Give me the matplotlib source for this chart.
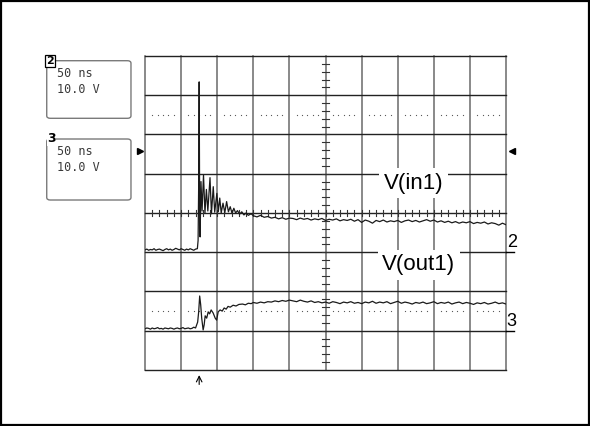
import matplotlib
matplotlib.use("Agg")
import matplotlib.pyplot as plt
from matplotlib import font_manager
import numpy as np
from matplotlib.patches import Rectangle, FancyBboxPatch

# Escalas do osciloscópio
NS_POR_DIV = 50.0
V_POR_DIV = 10.0
T_INICIO = -75.0          # tempo na borda esquerda da tela (ns)
TERRA_CH2 = 3             # posição do terra do canal 2 (divisões)
TERRA_CH3 = 1             # posição do terra do canal 3 (divisões)
NIVEL_TRIGGER = 25.7      # nível de trigger (V, canal 2)

# Canal 2: V(in1)
t_in = [-75, -72.5, -70, -67.5, -65, -62.5, -60, -57.5, -55, -52.5, -50, -47.5, -45, -42.5,
        -40, -37.5, -35, -32.5, -30, -27.5, -25, -22.5, -20, -17.5, -15, -12.5, -10, -7.5, -5,
        -2.5, -1.5, -0.7, 0.0, 0.6, 1.3, 2.5, 4.0, 6.0, 8.0, 10.0, 12.0, 15.0, 17.0, 19.5,
        21.5, 24.5, 26.5, 28.5, 30.5, 33.0, 35.5, 38.0, 40.5, 43.0, 45.5, 48.0, 50.5, 53.0,
        56.0, 59.0, 62.0, 65.0, 68.0, 72.0,
        75, 80, 85, 90, 95, 100, 105, 110, 115, 120, 125, 130, 135, 140, 145, 150, 155, 160,
        165, 170, 175, 180, 185, 190, 195, 200, 205, 210, 215, 220, 225, 230, 235, 240, 245,
        250, 255, 260, 265, 270, 275, 280, 285, 290, 295, 300, 305, 310, 315, 320, 325, 330,
        335, 340, 345, 350, 355, 360, 365, 370, 375, 380, 385, 390, 395, 400, 405, 410, 415,
        420, 425]
v_in = [0.6, 0.8, 0.5, 0.7, 0.6, 0.9, 0.5, 0.7, 0.8, 0.6, 0.4, 0.7, 0.9, 0.6,
        0.8, 0.5, 0.7, 1.0, 0.8, 0.6, 0.9, 0.7, 0.5, 0.8, 0.6, 0.9, 0.7, 0.5, 0.8,
        0.9, 3.0, 17.0, 43.4, 14.0, 3.9, 18.0, 10.5, 19.7, 10.0, 16.0, 10.5, 19.0, 9.8, 16.7,
        10.2, 15.0, 10.3, 13.8, 10.0, 12.5, 10.1, 12.9, 10.3, 11.6, 9.9, 11.2, 10.0, 10.6,
        9.7, 10.3, 9.5, 10.0, 9.4, 9.8,
        9.3, 9.0, 9.4, 8.9, 9.1, 8.7, 8.9, 8.5, 8.8, 8.4, 8.7, 8.6, 8.3, 8.7, 8.4, 8.6, 8.2, 8.5,
        8.3, 8.6, 8.1, 8.4, 8.2, 8.5, 8.0, 8.3, 8.1, 8.4, 7.9, 8.3, 7.6, 8.2, 7.9, 7.4, 8.1,
        7.8, 8.2, 7.7, 8.0, 7.8, 8.1, 7.6, 8.0, 8.2, 7.8, 8.1, 7.7, 8.0, 8.3, 7.9, 8.2, 7.7,
        8.0, 7.6, 7.9, 7.5, 7.8, 7.4, 7.7, 7.5, 7.8, 7.3, 7.6, 7.4, 7.7, 7.2, 7.5, 7.3, 6.9,
        7.4, 7.0]

# Canal 3: V(out1)
t_out = [-75, -72.5, -70, -67.5, -65, -62.5, -60, -57.5, -55, -52.5, -50, -47.5, -45, -42.5,
         -40, -37.5, -35, -32.5, -30, -27.5, -25, -22.5, -20, -17.5, -15, -12.5, -10, -7.5, -5,
         -2.1, -0.7, 0.7, 2.1, 3.5, 5.5, 6.9, 8.3, 10.4, 12.5, 14.5, 16.6, 19.4, 22.2, 24.2,
         26.3, 29.0, 31.9, 34.6, 37.4, 40.0, 43.0, 47.0, 51.0, 55.0, 60.0, 64.0, 68.0, 72.0,
         75, 80, 85, 90, 95, 100, 105, 110, 115, 120, 125, 130, 135, 140, 145, 150, 155, 160,
         165, 170, 175, 180, 185, 190, 195, 200, 205, 210, 215, 220, 225, 230, 235, 240, 245,
         250, 255, 260, 265, 270, 275, 280, 285, 290, 295, 300, 305, 310, 315, 320, 325, 330,
         335, 340, 345, 350, 355, 360, 365, 370, 375, 380, 385, 390, 395, 400, 405, 410, 415,
         420, 425]
v_out = [0.5, 0.7, 0.6, 0.4, 0.7, 0.5, 0.6, 0.8, 0.5, 0.6, 0.4, 0.7, 0.6, 0.5,
         0.7, 0.6, 0.4, 0.6, 0.7, 0.5, 0.6, 0.8, 0.5, 0.6, 0.7, 0.5, 0.6, 0.9, 0.7,
         2.2, 4.8, 8.85, 6.6, 3.2, 0.2, 1.5, 3.8, 3.2, 4.8, 4.3, 5.3, 4.5, 3.2, 2.7,
         4.8, 5.3, 5.0, 5.8, 5.5, 6.2, 6.0, 6.5, 6.3, 6.7, 6.8, 6.6, 7.0, 6.9,
         7.2, 7.0, 7.3, 7.1, 7.4, 7.3, 7.6, 7.4, 7.7, 7.5, 7.8, 7.6, 7.4, 7.8, 7.5, 7.3, 7.6, 7.2,
         7.4, 7.1, 7.3, 7.0, 7.4, 7.2, 6.9, 7.3, 7.1, 7.4, 7.0, 7.2, 6.9, 7.3, 7.1, 7.5, 7.0,
         7.3, 7.1, 7.4, 6.9, 7.2, 7.5, 7.0, 7.3, 7.1, 6.8, 7.2, 7.0, 7.3, 6.9, 7.1, 7.4, 6.9,
         7.2, 7.0, 7.3, 6.8, 7.1, 7.3, 6.9, 7.2, 7.0, 6.7, 7.1, 6.9, 7.2, 6.8, 7.0, 7.3, 6.9,
         7.1, 6.8]

# Textos dos quadros de canal
canais = ["2", "3"]
base_tempo = ["50 ns", "50 ns"]
escala_v = ["10.0 V", "10.0 V"]

# Fonte estreita para os marcadores de terra, se existir
nomes_fontes = {f.name for f in font_manager.fontManager.ttflist}
FONTE_ESTREITA = "Liberation Sans Narrow" if "Liberation Sans Narrow" in nomes_fontes else "Liberation Sans"

fig = plt.figure(figsize=(5.9, 4.26), dpi=100)
fig.patch.set_facecolor("white")

# Moldura externa
fig.add_artist(Rectangle((0.002, 0.002), 0.996, 0.995, transform=fig.transFigure,
                         fill=False, ec="black", lw=1.6))

ax = fig.add_axes([0.2458, 0.1315, 0.6119, 0.7371])
ax.set_xlim(0, 10)
ax.set_ylim(0, 8)
ax.axis("off")

# Retícula
for xv in range(11):
    ax.plot([xv, xv], [0, 8], color="#6a6a6a", lw=1.1, zorder=1, clip_on=False)
for yv in range(9):
    ax.plot([0, 10], [yv, yv], color="#222222", lw=1.0, zorder=1, clip_on=False)

# Marcas do eixo central
for k in range(1, 40):
    ax.plot([4.91, 5.09], [k * 0.2, k * 0.2], color="#333333", lw=0.8, zorder=1)
for k in range(1, 50):
    ax.plot([k * 0.2, k * 0.2], [3.92, 4.08], color="#333333", lw=0.8, zorder=1)

# Linhas pontilhadas
xs_pont = np.concatenate([d + np.array([0.2, 0.35, 0.5, 0.65, 0.8]) for d in range(10)])
for yp in [6.5, 1.5]:
    ax.scatter(xs_pont, np.full_like(xs_pont, yp), s=0.8, color="#555555", zorder=1, lw=0)

# Traços
x_in = (np.array(t_in) - T_INICIO) / NS_POR_DIV
y_in = TERRA_CH2 + np.array(v_in) / V_POR_DIV
x_out = (np.array(t_out) - T_INICIO) / NS_POR_DIV
y_out = TERRA_CH3 + np.array(v_out) / V_POR_DIV
ax.plot(x_in, y_in, color="#1a1a1a", lw=0.9, zorder=3)
ax.plot(x_out, y_out, color="#1a1a1a", lw=0.9, zorder=3)

# Rótulos dos sinais
caixa = dict(boxstyle="square,pad=0.2", fc="white", ec="none")
ax.text(7.43, 4.76, "V(in1)", fontsize=16, family="Liberation Sans", ha="center",
        va="center", bbox=caixa, zorder=4)
ax.text(7.58, 2.68, "V(out1)", fontsize=16, family="Liberation Sans", ha="center",
        va="center", bbox=caixa, zorder=4)

# Marcadores de terra à direita
for terra, nome in [(TERRA_CH2, "2"), (TERRA_CH3, "3")]:
    ax.plot([10.0, 10.22], [terra, terra], color="black", lw=1.0, clip_on=False, zorder=3)
    ax.text(10.02, terra + 0.03, nome, fontsize=13, family=FONTE_ESTREITA,
            ha="left", va="bottom", clip_on=False)

# Nível de trigger
y_trig = TERRA_CH2 + NIVEL_TRIGGER / V_POR_DIV
ax.plot([-0.14], [y_trig], marker=">", ms=4.5, color="black", clip_on=False)
ax.plot([10.16], [y_trig], marker="<", ms=4.5, color="black", clip_on=False)

# Posição do trigger
x_trig = (0 - T_INICIO) / NS_POR_DIV
ax.annotate("", xy=(x_trig, -0.06), xytext=(x_trig, -0.44),
            arrowprops=dict(arrowstyle="->", lw=0.8, color="black"),
            annotation_clip=False)

# Quadros de canal à esquerda
quadros = [(0.0792, 0.7223, 0.8575), (0.0792, 0.5305, 0.6737)]
for i, (x0, y0, y1) in enumerate(quadros):
    fig.add_artist(FancyBboxPatch((x0, y0), 0.2220 - x0, y1 - y0,
                                  boxstyle="round,pad=0,rounding_size=0.006",
                                  transform=fig.transFigure, fill=False,
                                  ec="#7a7a7a", lw=1.0))
    fig.text(0.0966, y1 - 0.03, base_tempo[i], fontsize=8.5, family="DejaVu Sans Mono",
             color="#3a3a3a", va="center")
    fig.text(0.0966, y1 - 0.068, escala_v[i], fontsize=8.5, family="DejaVu Sans Mono",
             color="#3a3a3a", va="center")

fig.text(0.0845, 0.857, canais[0], fontsize=8, fontweight="bold", ha="center", va="center",
         bbox=dict(boxstyle="square,pad=0.08", fc="white", ec="black", lw=0.9))
fig.text(0.0875, 0.674, canais[1], fontsize=9, fontweight="bold", ha="center", va="center",
         bbox=dict(boxstyle="square,pad=0.02", fc="white", ec="none"))

plt.savefig("out.png", dpi=100)
plt.close()
